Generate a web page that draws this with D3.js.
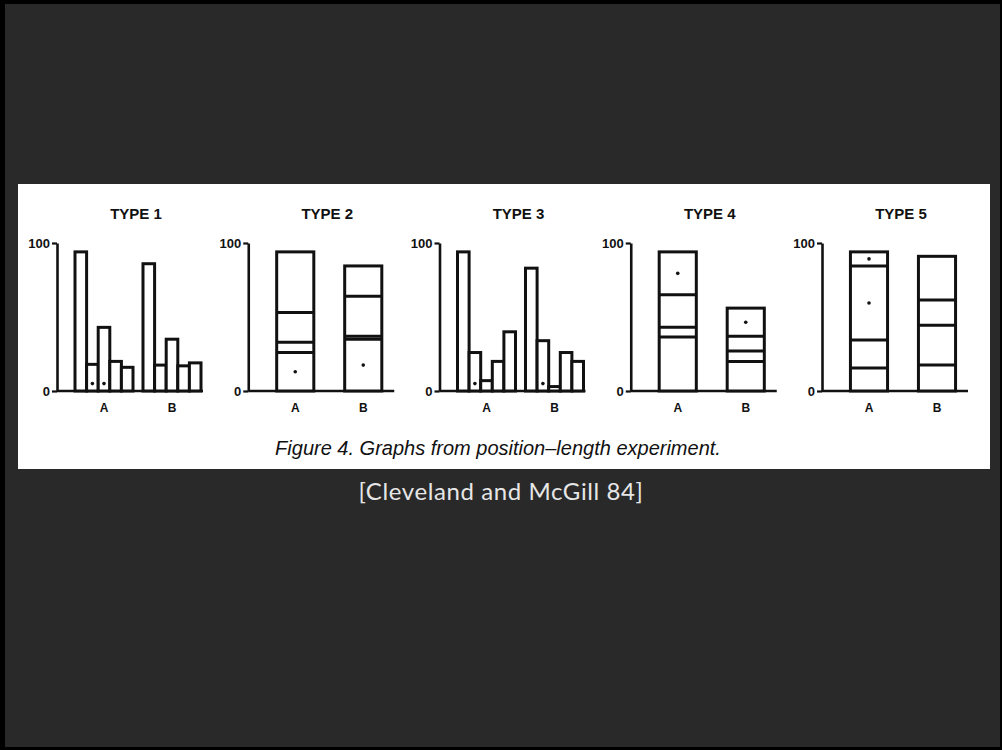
<!DOCTYPE html>
<html>
<head>
<meta charset="utf-8">
<script src="https://cdn.jsdelivr.net/npm/d3@7"></script>
<style>
  html, body { margin: 0; padding: 0; background: #000; }
  svg { display: block; }
</style>
</head>
<body>
<svg id="chart" width="1002" height="750"></svg>
<script>
// panel titles and bar groups
var types = ['TYPE 1', 'TYPE 2', 'TYPE 3', 'TYPE 4', 'TYPE 5'];
var groups = ['A', 'B'];
var yTicks = [0, 100];

// TYPE 1 / TYPE 3: five side by side bars per group
var type1A = [94, 18, 43, 20, 16];
var type1B = [86, 17.5, 35, 17, 19];
var type3A = [94, 26, 7, 20, 40];
var type3B = [83, 34, 3, 26, 20];

// TYPE 2 / 4 / 5: one stacked bar per group, listed as segment tops
var type2A = [26, 33, 53, 94];
var type2B = [35, 37, 64, 84.5];
var type4A = [36.5, 43, 65, 94];
var type4B = [20, 27, 37, 56];
var type5A = [15.5, 34.5, 84.5, 94];
var type5B = [17.5, 44.5, 61.5, 91];

// dots mark the two pieces being compared: [group, bar or segment index]
var type1Dots = [['A', 1], ['A', 2]];
var type2Dots = [['A', 0], ['B', 0]];
var type3Dots = [['A', 1], ['B', 1]];
var type4Dots = [['A', 3], ['B', 3]];
var type5Dots = [['A', 2], ['A', 3]];

var caption = 'Figure 4. Graphs from position\u2013length experiment.';
var citation = '[Cleveland and McGill 84]';

var panels = [
    {type: types[0], kind: 'grouped', A: type1A, B: type1B, dots: type1Dots},
    {type: types[1], kind: 'stacked', A: type2A, B: type2B, dots: type2Dots},
    {type: types[2], kind: 'grouped', A: type3A, B: type3B, dots: type3Dots},
    {type: types[3], kind: 'stacked', A: type4A, B: type4B, dots: type4Dots},
    {type: types[4], kind: 'stacked', A: type5A, B: type5B, dots: type5Dots}
];

var svg = d3.select('#chart');
var ink = '#111';

// slide frame
svg.append('rect').attr('width', 1002).attr('height', 750).attr('fill', '#000');
svg.append('rect')
    .attr('x', 5).attr('y', 4)
    .attr('width', 995).attr('height', 743)
    .attr('fill', '#292929');
svg.append('rect')
    .attr('x', 18).attr('y', 184)
    .attr('width', 972).attr('height', 285)
    .attr('fill', '#fff');

var y = d3.scaleLinear().domain([0, 100]).range([391, 243]);
var panelX = d3.scalePoint().domain(types).range([57, 822]);

panels.forEach(function(p) {
    var g = svg.append('g').attr('transform', 'translate(' + panelX(p.type) + ',0)');
    var gx = d3.scaleBand().domain(groups).range([18, 144]).paddingInner(0.147);

    g.append('text')
        .attr('x', 79).attr('y', 219)
        .attr('text-anchor', 'middle')
        .style('font', 'bold 15px "Liberation Sans", Arial, sans-serif')
        .attr('fill', ink)
        .text(p.type);

    // y axis: only 0 and 100
    var axis = g.append('g')
        .call(d3.axisLeft(y).tickValues(yTicks).tickSizeInner(5).tickSizeOuter(0).tickPadding(2));
    axis.select('.domain').attr('stroke', ink).attr('stroke-width', 2.6);
    axis.selectAll('.tick line').attr('stroke', ink).attr('stroke-width', 2.2);
    axis.selectAll('.tick text')
        .attr('fill', ink)
        .style('font', 'bold 13px "Liberation Sans", Arial, sans-serif');

    g.append('line')
        .attr('x1', 0).attr('x2', 146)
        .attr('y1', y(0)).attr('y2', y(0))
        .attr('stroke', ink).attr('stroke-width', 2.6);

    g.selectAll('text.grp')
        .data(groups)
        .enter().append('text')
            .attr('class', 'grp')
            .attr('x', d => gx(d) + gx.bandwidth() / 2)
            .attr('y', 412)
            .attr('text-anchor', 'middle')
            .attr('fill', ink)
            .style('font', 'bold 12px "Liberation Sans", Arial, sans-serif')
            .text(d => d);

    groups.forEach(function(grp) {
        var vals = p[grp];
        if (p.kind === 'grouped') {
            var bx = d3.scaleBand().domain(d3.range(vals.length))
                .range([gx(grp), gx(grp) + gx.bandwidth()]);
            g.selectAll('rect.bar-' + grp)
                .data(vals)
                .enter().append('rect')
                    .attr('class', 'bar-' + grp)
                    .attr('x', (d, i) => bx(i))
                    .attr('y', d => y(d))
                    .attr('width', bx.bandwidth())
                    .attr('height', d => y(0) - y(d))
                    .attr('fill', '#fff')
                    .attr('stroke', ink)
                    .attr('stroke-width', 3);
            g.selectAll('circle.dot-' + grp)
                .data(p.dots.filter(d => d[0] === grp))
                .enter().append('circle')
                    .attr('class', 'dot-' + grp)
                    .attr('cx', d => bx(d[1]) + bx.bandwidth() / 2)
                    .attr('cy', y(5))
                    .attr('r', 1.8)
                    .attr('fill', ink);
        } else {
            var w = gx.bandwidth() * 0.64;
            var left = gx(grp) + (gx.bandwidth() - w) / 2;
            g.append('rect')
                .attr('x', left)
                .attr('y', y(vals[vals.length - 1]))
                .attr('width', w)
                .attr('height', y(0) - y(vals[vals.length - 1]))
                .attr('fill', '#fff')
                .attr('stroke', ink)
                .attr('stroke-width', 3);
            g.selectAll('line.div-' + grp)
                .data(vals.slice(0, -1))
                .enter().append('line')
                    .attr('class', 'div-' + grp)
                    .attr('x1', left).attr('x2', left + w)
                    .attr('y1', d => y(d)).attr('y2', d => y(d))
                    .attr('stroke', ink)
                    .attr('stroke-width', 3);
            g.selectAll('circle.dot-' + grp)
                .data(p.dots.filter(d => d[0] === grp))
                .enter().append('circle')
                    .attr('class', 'dot-' + grp)
                    .attr('cx', left + w / 2)
                    .attr('cy', d => y(((d[1] === 0 ? 0 : vals[d[1] - 1]) + vals[d[1]]) / 2))
                    .attr('r', 1.8)
                    .attr('fill', ink);
        }
    });
});

svg.append('text')
    .attr('x', 498).attr('y', 455)
    .attr('text-anchor', 'middle')
    .attr('fill', ink)
    .style('font', 'italic 20px "Liberation Sans", Arial, sans-serif')
    .text(caption);

svg.append('text')
    .attr('x', 501).attr('y', 500)
    .attr('text-anchor', 'middle')
    .attr('fill', '#e6e6e6')
    .style('font', '24px Lato, "Open Sans", sans-serif')
    .style('letter-spacing', '0.6px')
    .text(citation);
</script>
</body>
</html>
